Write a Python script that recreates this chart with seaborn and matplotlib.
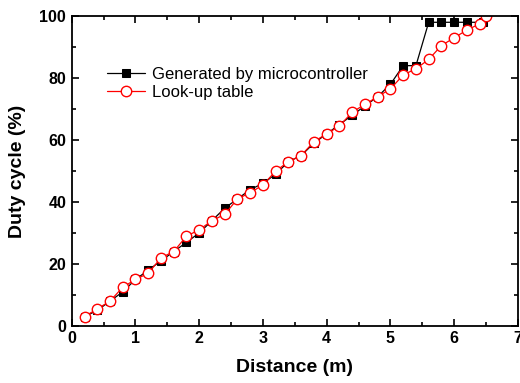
import matplotlib
matplotlib.use("Agg")
import matplotlib.pyplot as plt
import seaborn as sns
import pandas as pd
from matplotlib.ticker import MultipleLocator

# distance (m) and duty cycle (%)
mcu_x = [0.2, 0.4, 0.6, 0.8, 1.0, 1.2, 1.4, 1.6, 1.8, 2.0, 2.2, 2.4, 2.6, 2.8,
         3.0, 3.2, 3.4, 3.6, 3.8, 4.0, 4.2, 4.4, 4.6, 4.8, 5.0, 5.2, 5.4, 5.6,
         5.8, 6.0, 6.2, 6.45]
mcu_y = [3, 5, 8, 11, 15, 18, 21, 24, 27, 30, 34, 38, 41, 44,
         46, 49, 53, 55, 59, 62, 65, 68, 71, 74, 78, 84, 84, 98,
         98, 98, 98, 98]

lut_x = [0.2, 0.4, 0.6, 0.8, 1.0, 1.2, 1.4, 1.6, 1.8, 2.0, 2.2, 2.4, 2.6, 2.8,
         3.0, 3.2, 3.4, 3.6, 3.8, 4.0, 4.2, 4.4, 4.6, 4.8, 5.0, 5.2, 5.4, 5.6,
         5.8, 6.0, 6.2, 6.4, 6.5]
lut_y = [3, 5.5, 8, 12.5, 15, 17, 22, 24, 29, 31, 34, 36, 41, 43,
         45.5, 50, 53, 55, 59.5, 62, 64.5, 69, 71.5, 74, 76.5, 81, 83, 86,
         90.5, 93, 95.5, 97.5, 100]

mcu = pd.DataFrame({"Distance": mcu_x, "Duty": mcu_y})
lut = pd.DataFrame({"Distance": lut_x, "Duty": lut_y})

sns.set_theme(style="ticks")
plt.rcParams["font.family"] = ["Liberation Sans", "DejaVu Sans"]
plt.rcParams["text.color"] = "black"
plt.rcParams["axes.labelcolor"] = "black"

fig = plt.figure(figsize=(5.2, 3.83), dpi=100)
ax = fig.add_axes([0.138, 0.149, 0.858, 0.809])

sns.lineplot(data=mcu, x="Distance", y="Duty", ax=ax, color="black",
             marker="s", markersize=6, markeredgecolor="black",
             linewidth=0.9, label="Generated by microcontroller")
sns.lineplot(data=lut, x="Distance", y="Duty", ax=ax, color="red",
             marker="o", markersize=7.5, markerfacecolor="white",
             markeredgecolor="red", markeredgewidth=1.0,
             linewidth=0.9, label="Look-up table")

ax.set_xlim(0, 7)
ax.set_ylim(0, 100)
ax.xaxis.set_major_locator(MultipleLocator(1))
ax.xaxis.set_minor_locator(MultipleLocator(0.5))
ax.yaxis.set_major_locator(MultipleLocator(20))
ax.yaxis.set_minor_locator(MultipleLocator(10))
ax.tick_params(which="both", direction="in", top=True, right=True,
               width=1.2, colors="black")
ax.tick_params(which="major", length=5, labelsize=11.5, pad=4)
ax.tick_params(which="minor", length=3)
for lab in ax.get_xticklabels() + ax.get_yticklabels():
    lab.set_fontweight("bold")
for sp in ax.spines.values():
    sp.set_visible(True)
    sp.set_linewidth(1.3)
    sp.set_color("black")

ax.set_xlabel("Distance (m)", fontsize=14, fontweight="bold", labelpad=9)
ax.set_ylabel("Duty cycle (%)", fontsize=14, fontweight="bold", labelpad=10)

ax.legend(loc="upper left", bbox_to_anchor=(0.045, 0.885), frameon=False,
          fontsize=12, handlelength=2.3, handletextpad=0.4, labelspacing=0.2,
          labelcolor="black")

fig.savefig("out.png", dpi=100)
